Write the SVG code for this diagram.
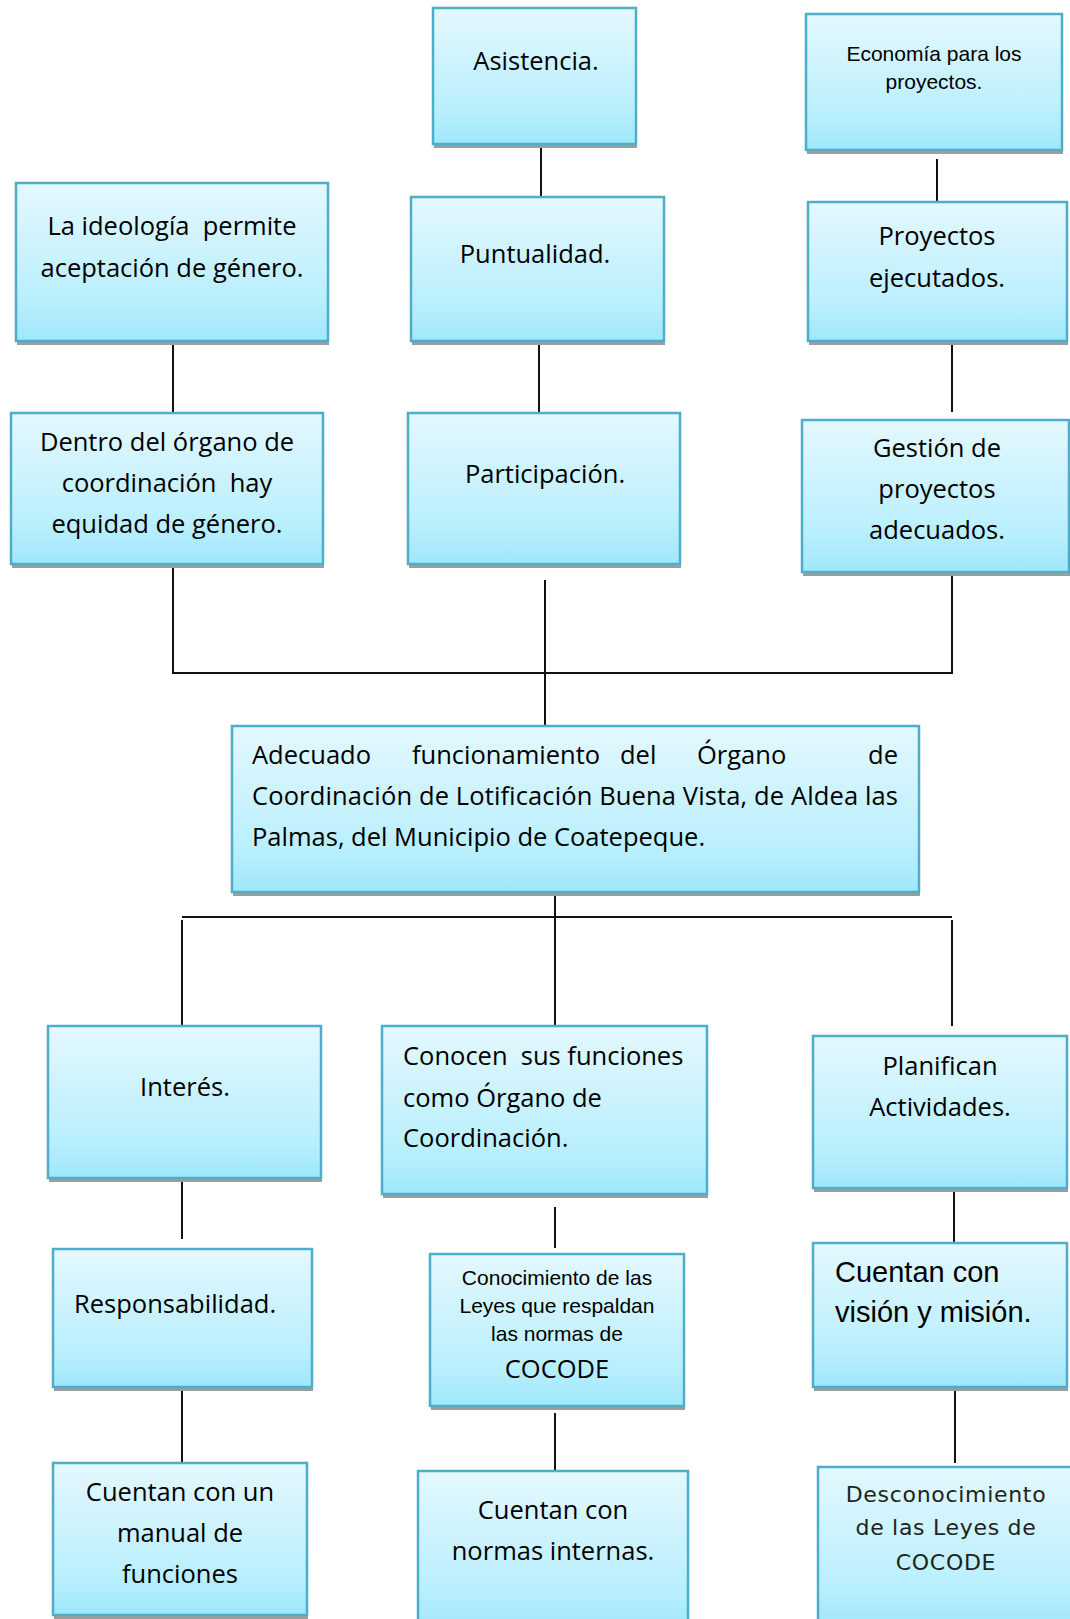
<svg xmlns="http://www.w3.org/2000/svg" width="1070" height="1619" viewBox="0 0 1070 1619">
<defs>
<linearGradient id="g" x1="0" y1="0" x2="0" y2="1">
<stop offset="0" stop-color="#e4f8fe"/>
<stop offset="0.75" stop-color="#b9effd"/>
<stop offset="1" stop-color="#9fe7fc"/>
</linearGradient>
</defs>
<style>
.sh{fill:#9d9d9d}
.bx{fill:url(#g);stroke:#4eadc7;stroke-width:2.5}
.t{font-family:"Open Sans","Noto Sans",sans-serif;font-size:25.5px;fill:#000}
.c{text-anchor:middle}
.a{font-family:"Liberation Sans",Arial,sans-serif;fill:#000}
.d{font-family:"DejaVu Sans",sans-serif;font-size:22px;letter-spacing:0.7px;fill:#222;text-anchor:middle}
.ln{stroke:#111;stroke-width:2;fill:none}
</style>
<rect width="1070" height="1619" fill="#fff"/>
<g id="connectors">
<line class="ln" x1="541" y1="144" x2="541" y2="196"/>
<line class="ln" x1="539" y1="341" x2="539" y2="413"/>
<line class="ln" x1="937" y1="159" x2="937" y2="209"/>
<line class="ln" x1="952" y1="341" x2="952" y2="412"/>
<line class="ln" x1="173" y1="341" x2="173" y2="413"/>
<polyline class="ln" points="173,564 173,673 952,673 952,572"/>
<line class="ln" x1="545" y1="580" x2="545" y2="726"/>
<line class="ln" x1="555" y1="892" x2="555" y2="1026"/>
<line class="ln" x1="182" y1="917" x2="952" y2="917"/>
<line class="ln" x1="182" y1="920" x2="182" y2="1026"/>
<line class="ln" x1="952" y1="920" x2="952" y2="1026"/>
<line class="ln" x1="182" y1="1178" x2="182" y2="1239"/>
<line class="ln" x1="555" y1="1207" x2="555" y2="1248"/>
<line class="ln" x1="954" y1="1188" x2="954" y2="1243"/>
<line class="ln" x1="182" y1="1387" x2="182" y2="1463"/>
<line class="ln" x1="555" y1="1413" x2="555" y2="1470"/>
<line class="ln" x1="955" y1="1387" x2="955" y2="1463"/>
</g>
<g id="n-asistencia">
<rect class="sh" x="434" y="12" width="203" height="136"/>
<rect class="bx" x="433" y="8" width="203" height="136"/>
<text class="t c" x="536" y="70">Asistencia.</text>
</g>
<g id="n-economia">
<rect class="sh" x="807" y="18" width="256" height="136"/>
<rect class="bx" x="806" y="14" width="256" height="136"/>
<text class="a c" font-size="21" x="934" y="61">Economía para los</text>
<text class="a c" font-size="21" x="934" y="89">proyectos.</text>
</g>
<g id="n-ideologia">
<rect class="sh" x="17" y="187" width="312" height="158"/>
<rect class="bx" x="16" y="183" width="312" height="158"/>
<text class="t c" x="172" y="235" xml:space="preserve">La ideología  permite</text>
<text class="t c" x="172" y="277">aceptación de género.</text>
</g>
<g id="n-puntualidad">
<rect class="sh" x="412" y="201" width="253" height="144"/>
<rect class="bx" x="411" y="197" width="253" height="144"/>
<text class="t c" x="535" y="263">Puntualidad.</text>
</g>
<g id="n-proyectos">
<rect class="sh" x="809" y="206" width="259" height="139"/>
<rect class="bx" x="808" y="202" width="259" height="139"/>
<text class="t c" x="937" y="245">Proyectos</text>
<text class="t c" x="937" y="287">ejecutados.</text>
</g>
<g id="n-dentro">
<rect class="sh" x="12" y="417" width="312" height="151"/>
<rect class="bx" x="11" y="413" width="312" height="151"/>
<text class="t c" x="167" y="451">Dentro del órgano de</text>
<text class="t c" x="167" y="492" xml:space="preserve">coordinación  hay</text>
<text class="t c" x="167" y="533">equidad de género.</text>
</g>
<g id="n-participacion">
<rect class="sh" x="409" y="417" width="272" height="151"/>
<rect class="bx" x="408" y="413" width="272" height="151"/>
<text class="t c" x="545" y="483">Participación.</text>
</g>
<g id="n-gestion">
<rect class="sh" x="803" y="424" width="267" height="152"/>
<rect class="bx" x="802" y="420" width="267" height="152"/>
<text class="t c" x="937" y="457">Gestión de</text>
<text class="t c" x="937" y="498">proyectos</text>
<text class="t c" x="937" y="539">adecuados.</text>
</g>
<g id="n-main">
<rect class="sh" x="233" y="730" width="687" height="166"/>
<rect class="bx" x="232" y="726" width="687" height="166"/>
<text class="t" y="764"><tspan x="252">Adecuado</tspan><tspan x="412">funcionamiento</tspan><tspan x="620">del</tspan><tspan x="697">Órgano</tspan><tspan x="898" text-anchor="end">de</tspan></text>
<text class="t" x="252" y="805" textLength="646" lengthAdjust="spacing">Coordinación de Lotificación Buena Vista, de Aldea las</text>
<text class="t" x="252" y="846">Palmas, del Municipio de Coatepeque.</text>
</g>
<g id="n-interes">
<rect class="sh" x="49" y="1030" width="273" height="152"/>
<rect class="bx" x="48" y="1026" width="273" height="152"/>
<text class="t c" x="185" y="1096">Interés.</text>
</g>
<g id="n-conocen">
<rect class="sh" x="383" y="1030" width="325" height="168"/>
<rect class="bx" x="382" y="1026" width="325" height="168"/>
<text class="t" x="403" y="1065" xml:space="preserve">Conocen  sus funciones</text>
<text class="t" x="403" y="1107">como Órgano de</text>
<text class="t" x="403" y="1147">Coordinación.</text>
</g>
<g id="n-planifican">
<rect class="sh" x="814" y="1040" width="254" height="152"/>
<rect class="bx" x="813" y="1036" width="254" height="152"/>
<text class="t c" x="940" y="1075">Planifican</text>
<text class="t c" x="940" y="1116">Actividades.</text>
</g>
<g id="n-responsabilidad">
<rect class="sh" x="54" y="1253" width="259" height="138"/>
<rect class="bx" x="53" y="1249" width="259" height="138"/>
<text class="t" x="74" y="1313">Responsabilidad.</text>
</g>
<g id="n-conocimiento">
<rect class="sh" x="431" y="1258" width="254" height="152"/>
<rect class="bx" x="430" y="1254" width="254" height="152"/>
<text class="a c" font-size="21" x="557" y="1285">Conocimiento de las</text>
<text class="a c" font-size="21" x="557" y="1313">Leyes que respaldan</text>
<text class="a c" font-size="21" x="557" y="1341">las normas de</text>
<text class="t c" x="557" y="1378">COCODE</text>
</g>
<g id="n-vision">
<rect class="sh" x="814" y="1247" width="254" height="144"/>
<rect class="bx" x="813" y="1243" width="254" height="144"/>
<text class="a" font-size="29" x="835" y="1282">Cuentan con</text>
<text class="a" font-size="29" x="835" y="1322">visión y misión.</text>
</g>
<g id="n-manual">
<rect class="sh" x="54" y="1467" width="254" height="152"/>
<rect class="bx" x="53" y="1463" width="254" height="152"/>
<text class="t c" x="180" y="1501">Cuentan con un</text>
<text class="t c" x="180" y="1542">manual de</text>
<text class="t c" x="180" y="1583">funciones</text>
</g>
<g id="n-normas">
<rect class="sh" x="419" y="1475" width="270" height="160"/>
<rect class="bx" x="418" y="1471" width="270" height="160"/>
<text class="t c" x="553" y="1519">Cuentan con</text>
<text class="t c" x="553" y="1560">normas internas.</text>
</g>
<g id="n-desconocimiento">
<rect class="sh" x="819" y="1471" width="260" height="160"/>
<rect class="bx" x="818" y="1467" width="260" height="160"/>
<text class="d" x="946" y="1502">Desconocimiento</text>
<text class="d" x="946" y="1535">de las Leyes de</text>
<text class="d" x="946" y="1570">COCODE</text>
</g>
</svg>
